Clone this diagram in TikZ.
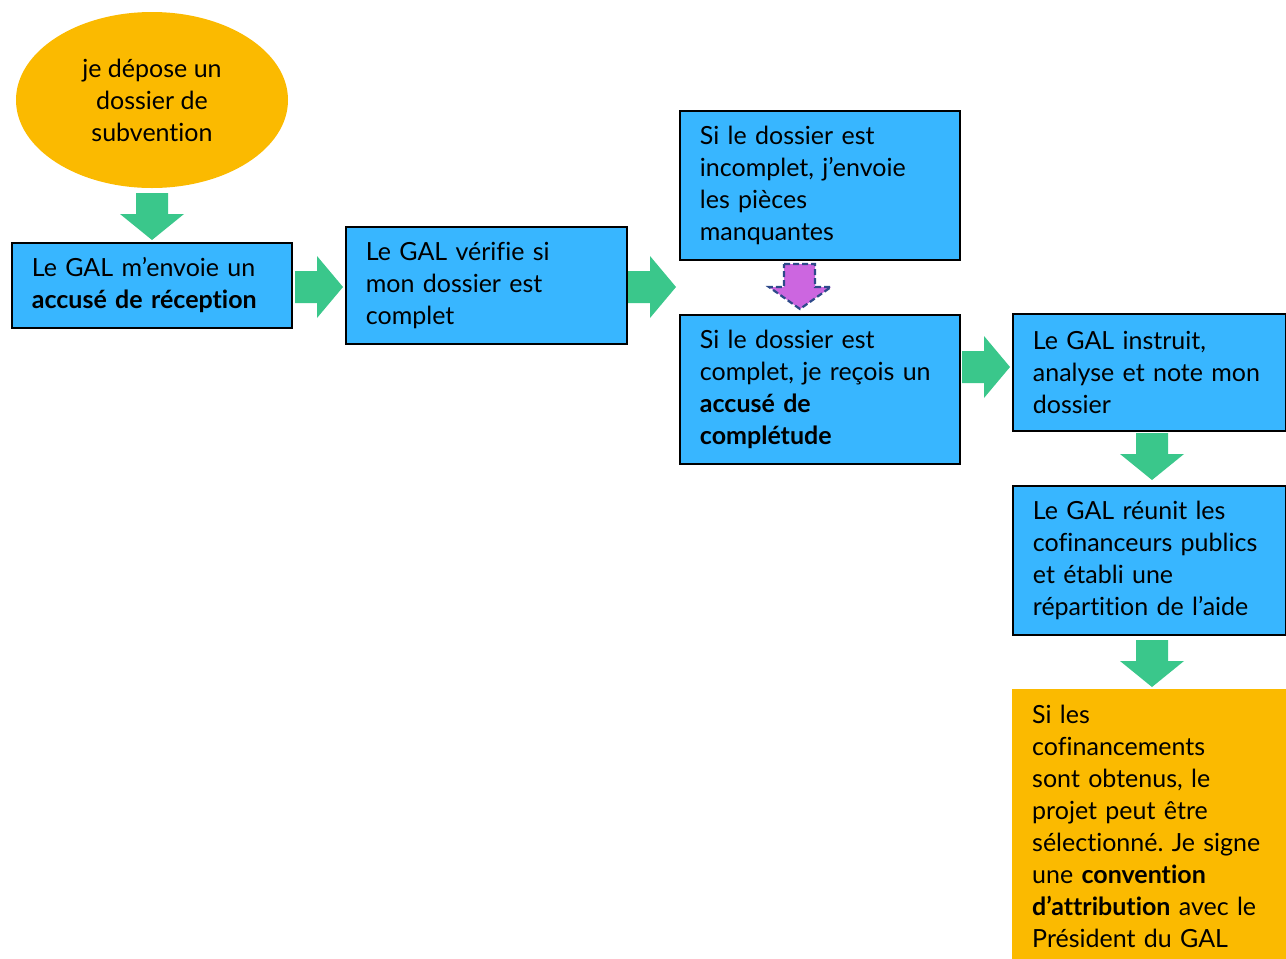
\documentclass[tikz,border=0pt]{standalone}
\usepackage{fontspec}
\setmainfont{Lato}[Ligatures=CommonOff]
\usetikzlibrary{shapes.geometric}
\definecolor{boxblue}{HTML}{38B6FF}
\definecolor{arrgreen}{HTML}{3AC78B}
\definecolor{ylw}{HTML}{FBBA00}
\definecolor{purp}{HTML}{CC66E0}
\definecolor{dashblue}{HTML}{2E4A8A}
\tikzset{
  txt/.style={font=\fontsize{25}{32}\selectfont\frenchspacing, align=left},
  bluebox/.style={txt, draw=black, line width=1.8pt, fill=boxblue, inner xsep=20pt, inner ysep=0pt, anchor=north west},
  ylwbox/.style={txt, fill=ylw, inner xsep=20pt, inner ysep=0pt, anchor=north west},
  greenarrow/.style={fill=arrgreen},
  purparrow/.style={fill=purp, draw=dashblue, line width=2.2pt, dash pattern=on 6pt off 3pt},
  pics/downarrow/.style={code={
    \path[#1] (-16,0) -- (16,0) -- (16,21) -- (32,21) -- (0,47) -- (-32,21) -- (-16,21) -- cycle;}},
  pics/rightarrow/.style={code={
    \path[#1] (0,-16) -- (0,16) -- (22,16) -- (22,31) -- (48,0) -- (22,-31) -- (22,-16) -- cycle;}},
}
\begin{document}
\begin{tikzpicture}[x=1pt,y=-1pt]
\useasboundingbox (0,0) rectangle (1286,959);
% start ellipse
\node[ellipse, fill=ylw, minimum width=272pt, minimum height=176pt, inner sep=0pt, txt, align=center] (start) at (152,100) {je dépose un\\dossier de\\subvention};
% boxes
\node[bluebox, minimum width=280pt, minimum height=85pt, text width=240pt] (b1) at (11,242) {Le GAL m’envoie un\\\textbf{accusé de réception}};
\node[bluebox, minimum width=281pt, minimum height=117pt, text width=241pt] (b2) at (345,226) {Le GAL vérifie si\\mon dossier est\\complet};
\node[bluebox, minimum width=280pt, minimum height=149pt, text width=240pt] (b3) at (679,110) {Si le dossier est\\incomplet, j’envoie\\les pièces\\manquantes};
\node[bluebox, minimum width=280pt, minimum height=149pt, text width=240pt] (b4) at (679,314) {Si le dossier est\\complet, je reçois un\\\textbf{accusé de}\\\textbf{complétude}};
\node[bluebox, minimum width=273pt, minimum height=117pt, text width=233pt] (b5) at (1012,313) {Le GAL instruit,\\analyse et note mon\\dossier};
\node[bluebox, minimum width=273pt, minimum height=149pt, text width=233pt] (b6) at (1012,485) {Le GAL réunit les\\cofinanceurs publics\\et établi une\\répartition de l’aide};
\node[ylwbox, minimum width=274pt, minimum height=275pt, text width=234pt] (b7) at (1012,689) {Si les\\cofinancements\\sont obtenus, le\\projet peut être\\sélectionné. Je signe\\une \textbf{convention}\\\textbf{d’attribution} avec le\\Président du GAL};
% arrows
\pic at (152,193) {downarrow=greenarrow};
\pic at (295,287) {rightarrow=greenarrow};
\pic at (628,287) {rightarrow=greenarrow};
\path[purparrow] (784,264) -- (815,264) -- (815,287) -- (831,287) -- (800,309) -- (769,287) -- (784,287) -- cycle;
\pic at (962,367) {rightarrow=greenarrow};
\pic at (1152,433) {downarrow=greenarrow};
\pic at (1152,640) {downarrow=greenarrow};
\end{tikzpicture}
\end{document}
